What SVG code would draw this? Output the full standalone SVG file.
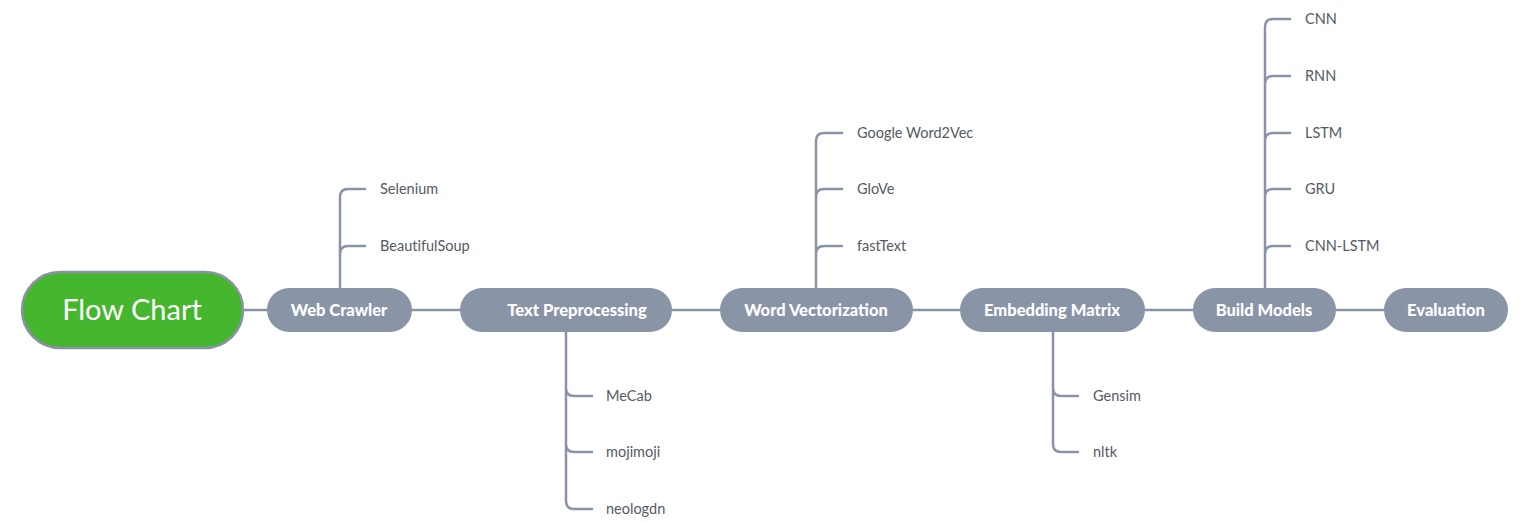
<svg xmlns="http://www.w3.org/2000/svg" width="1529" height="523" viewBox="0 0 1529 523">
<style>
.ln{fill:none;stroke:#8a93a6;stroke-width:2.5;stroke-linecap:round}
.nd{fill:#8a94a7}
.nt{font-family:Lato,"Liberation Sans",sans-serif;font-weight:900;font-size:16.5px;fill:#ffffff;text-anchor:middle}
.ct{font-family:Lato,"Liberation Sans",sans-serif;font-size:14.5px;fill:#555a63;font-variant-ligatures:none}
</style>
<rect width="1529" height="523" fill="#ffffff"/>
<g id="connectors">
<path class="ln" d="M243 310 H267 M412 310 H460 M672 310 H720 M913 310 H960 M1145 310 H1193 M1336 310 H1384"/>
<path class="ln" d="M340 288 V197 Q340 189 348 189 H365 M340 254 Q340 246 348 246 H365"/>
<path class="ln" d="M566 332 V501 Q566 509 574 509 H592 M566 388 Q566 396 574 396 H592 M566 444 Q566 452 574 452 H592"/>
<path class="ln" d="M816 288 V141 Q816 133 824 133 H842 M816 197 Q816 189 824 189 H842 M816 254 Q816 246 824 246 H842"/>
<path class="ln" d="M1053 332 V444 Q1053 452 1061 452 H1078 M1053 388 Q1053 396 1061 396 H1078"/>
<path class="ln" d="M1265 288 V27 Q1265 19 1273 19 H1290 M1265 84 Q1265 76 1273 76 H1290 M1265 141 Q1265 133 1273 133 H1290 M1265 197 Q1265 189 1273 189 H1290 M1265 254 Q1265 246 1273 246 H1290"/>
</g>
<g id="root">
<rect x="22" y="272" width="221" height="76" rx="38" fill="#45b72e" stroke="#8a93a6" stroke-width="2.5"/>
<text x="132" y="320" font-family="Lato,'Liberation Sans',sans-serif" font-size="29" fill="#ffffff" text-anchor="middle">Flow Chart</text>
</g>
<g id="web-crawler">
<rect class="nd" x="267" y="288" width="145" height="44" rx="22"/>
<text class="nt" x="339" y="316">Web Crawler</text>
</g>
<g id="text-preprocessing">
<rect class="nd" x="460" y="288" width="212" height="44" rx="22"/>
<text class="nt" x="577" y="316">Text Preprocessing</text>
</g>
<g id="word-vectorization">
<rect class="nd" x="720" y="288" width="193" height="44" rx="22"/>
<text class="nt" x="816" y="316">Word Vectorization</text>
</g>
<g id="embedding-matrix">
<rect class="nd" x="960" y="288" width="185" height="44" rx="22"/>
<text class="nt" x="1052" y="316">Embedding Matrix</text>
</g>
<g id="build-models">
<rect class="nd" x="1193" y="288" width="143" height="44" rx="22"/>
<text class="nt" x="1264" y="316">Build Models</text>
</g>
<g id="evaluation">
<rect class="nd" x="1384" y="288" width="124" height="44" rx="22"/>
<text class="nt" x="1446" y="316">Evaluation</text>
</g>
<g id="children">
<text class="ct" x="380" y="194">Selenium</text>
<text class="ct" x="380" y="251">BeautifulSoup</text>
<text class="ct" x="606" y="401">MeCab</text>
<text class="ct" x="606" y="457">mojimoji</text>
<text class="ct" x="606" y="514">neologdn</text>
<text class="ct" x="857" y="138">Google Word2Vec</text>
<text class="ct" x="857" y="194">GloVe</text>
<text class="ct" x="857" y="251">fastText</text>
<text class="ct" x="1093" y="401">Gensim</text>
<text class="ct" x="1093" y="457">nltk</text>
<text class="ct" x="1305" y="24">CNN</text>
<text class="ct" x="1305" y="81">RNN</text>
<text class="ct" x="1305" y="138">LSTM</text>
<text class="ct" x="1305" y="194">GRU</text>
<text class="ct" x="1305" y="251">CNN-LSTM</text>
</g>
</svg>
